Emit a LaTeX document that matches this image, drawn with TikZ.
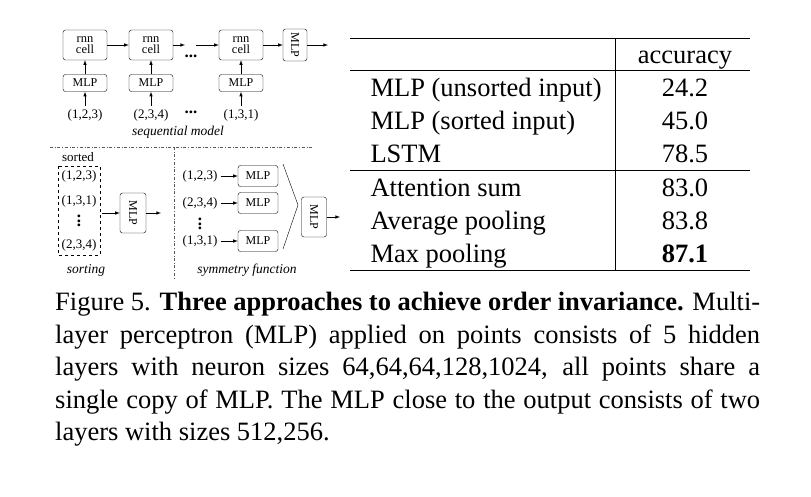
\documentclass[tikz,border=0pt]{standalone}
\usepackage{fontspec}
\setmainfont{Liberation Serif}
\usetikzlibrary{calc,positioning}

\begin{document}
\begin{tikzpicture}[
        x=1pt, y=-1pt,
        font=\fontsize{13}{13}\selectfont,
        box/.style={draw, rounded corners=2.5pt, inner sep=1pt, align=center},
        cell/.style={box, minimum width=44pt, minimum height=30pt, font=\fontsize{12.5}{11}\selectfont},
        mlp/.style={box, minimum width=44pt, minimum height=17pt, font=\fontsize{12}{12}\selectfont},
        vmlp/.style={box, rotate=-90, minimum width=40pt, minimum height=26pt, font=\fontsize{12}{12}\selectfont},
        dots/.style={font=\fontsize{17}{17}\selectfont\bfseries},
        arrow/.style={-latex, semithick},
        sep/.style={dash dot, gray!70!black, thin},
        tab/.style={font=\fontsize{26.5}{28}\selectfont, anchor=base west},
        num/.style={font=\fontsize{26.5}{28}\selectfont, anchor=base}
    ]
    \useasboundingbox (0,0) rectangle (811,496);

    % Sequential model
    \node[cell] (c1) at (85,45) {rnn\\cell};
    \node[cell] (c2) at (151,45) {rnn\\cell};
    \node[cell] (c3) at (241,45) {rnn\\cell};
    \node[vmlp, minimum width=32pt, minimum height=24pt] (mo) at (295,45) {MLP};
    \coordinate (out1) at (328,45);
    \node[mlp] (m1) at (85,83) {MLP};
    \node[mlp] (m2) at (151,83) {MLP};
    \node[mlp] (m3) at (241,83) {MLP};
    \node (p1) at (85,115) {(1,2,3)};
    \node (p2) at (151,115) {(2,3,4)};
    \node (p3) at (241,115) {(1,3,1)};
    \node[dots] (d1) at (191,56) {...};
    \node[dots] (d2) at (191,112) {...};
    \coordinate (a1) at (185,45);
    \coordinate (a2) at (196,45);
    \node[font=\itshape\fontsize{13.5}{14}\selectfont] (seq) at (178,132) {sequential model};

    \draw[arrow] (c1) -- (c2);
    \draw[arrow] (c2) -- (a1);
    \draw[arrow] (a2) -- (c3);
    \draw[arrow] (c3) -- (mo);
    \draw[arrow] (mo) -- (out1);
    \foreach \i in {1,2,3} {
        \draw[arrow] (p\i) -- (m\i);
        \draw[arrow] (m\i) -- (c\i);
    }

    % Separators
    \coordinate (h1) at (50,147);
    \coordinate (h2) at (313,147);
    \coordinate (v1) at (174,147);
    \coordinate (v2) at (174,280);
    \draw[sep] (h1) -- (h2);
    \draw[sep] (v1) -- (v2);

    % Sorting
    \node (srt) at (78,157) {sorted};
    \node (s1) at (79,176) {(1,2,3)};
    \node (s2) at (79,201) {(1,3,1)};
    \node[dots] (s3) at (79,221) {\rotatebox{90}{...}};
    \node (s4) at (79,245) {(2,3,4)};
    \draw[dashed] (58,166) rectangle (100,255);
    \coordinate (sb) at (102,213);
    \node[vmlp] (ms) at (133,213) {MLP};
    \coordinate (out2) at (161,213);
    \draw[arrow] (sb) -- (ms);
    \draw[arrow] (ms) -- (out2);
    \node[font=\itshape\fontsize{13.5}{14}\selectfont] (sortl) at (86,270) {sorting};

    % Symmetry function
    \node (q1) at (200,176) {(1,2,3)};
    \node (q2) at (200,203) {(2,3,4)};
    \node[dots] (q3) at (200,224) {\rotatebox{90}{...}};
    \node (q4) at (200,241) {(1,3,1)};
    \node[mlp, minimum height=21pt, minimum width=40pt] (n1) at (258,176) {MLP};
    \node[mlp, minimum height=21pt, minimum width=40pt] (n2) at (258,203) {MLP};
    \node[mlp, minimum height=21pt, minimum width=40pt] (n4) at (258,241) {MLP};
    \draw[arrow] (q1) -- (n1);
    \draw[arrow] (q2) -- (n2);
    \draw[arrow] (q4) -- (n4);
    \coordinate (v) at (298,205);
    \draw (283,164) -- (v) -- (283,249);
    \node[vmlp, minimum height=25pt] (mf) at (314,217) {MLP};
    \coordinate (out3) at (340,217);
    \draw[arrow] (mf) -- (out3);
    \node[font=\itshape\fontsize{13.5}{14}\selectfont] (syml) at (247,270) {symmetry function};

    % Table
    \coordinate (t1) at (350,38);
    \coordinate (t2) at (750,38);
    \draw[thin] (t1) -- (t2);
    \draw[thin] (350,70) -- (750,70);
    \draw[thin] (350,170) -- (750,170);
    \draw[thin] (350,270) -- (750,270);
    \draw[thin] (615,38) -- (615,270);
    \node[num] (hd) at (685,63) {accuracy};
    \node[tab] (r1) at (367,96) {MLP (unsorted input)};
    \node[tab] (r2) at (367,129) {MLP (sorted input)};
    \node[tab] (r3) at (367,162) {LSTM};
    \node[tab] (r4) at (367,196) {Attention sum};
    \node[tab] (r5) at (367,229) {Average pooling};
    \node[tab] (r6) at (367,262) {Max pooling};
    \node[num] (v1n) at (685,96) {24.2};
    \node[num] (v2n) at (685,129) {45.0};
    \node[num] (v3n) at (685,162) {78.5};
    \node[num] (v4n) at (685,196) {83.0};
    \node[num] (v5n) at (685,229) {83.8};
    \node[num, font=\fontsize{26.5}{28}\selectfont\bfseries] (v6n) at (685,262) {87.1};

    % Caption
    \node[anchor=north west, text width=705pt, inner sep=0pt, align=justify,
          font=\fontsize{26.5}{32.5}\selectfont] (cap) at (55,292)
        {Figure 5. \textbf{Three approaches to achieve order invariance.} Multi-\linebreak layer perceptron (MLP) applied on points consists of 5 hidden\linebreak layers with neuron sizes 64,64,64,128,1024, all points share a\linebreak single copy of MLP. The MLP close to the output consists of two\linebreak layers with sizes 512,256.};
\end{tikzpicture}
\end{document}
